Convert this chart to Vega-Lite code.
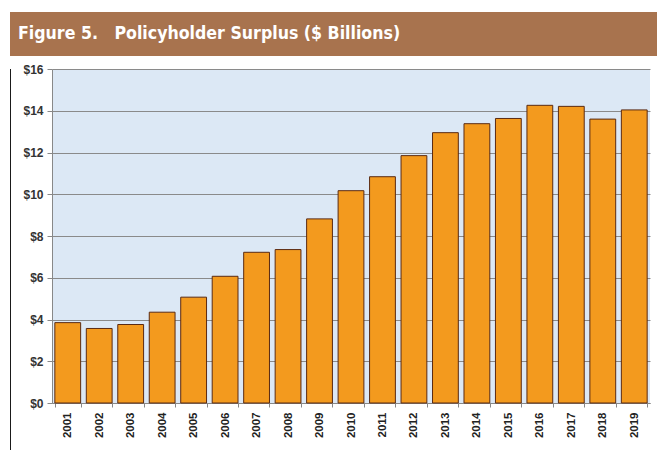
{
  "$schema": "https://vega.github.io/schema/vega-lite/v6.json",
  "padding": {"left": 10, "top": 12, "right": 0, "bottom": 0},
  "background": "white",
  "spacing": 7,
  "config": {"view": {"stroke": null}},
  "vconcat": [
    {
      "width": 647,
      "height": 44,
      "data": {"values": [{"t": "bar"}]},
      "title": {
        "text": "Figure 5.\u00a0\u00a0\u00a0Policyholder Surplus ($ Billions)",
        "anchor": "start",
        "offset": -31,
        "dx": 8,
        "font": "DejaVu Sans Condensed",
        "fontSize": 17.6,
        "fontWeight": "bold",
        "color": "white"
      },
      "mark": {"type": "rect", "color": "#A8734E"}
    },
    {
      "spacing": 0,
      "hconcat": [
        {
          "width": 1,
          "height": 388,
          "data": {"values": [{"t": "border"}]},
          "mark": {"type": "rect", "color": "#1a1a1a"}
        },
        {
          "width": 598,
          "height": 334,
          "view": {"fill": "#dce8f5", "stroke": null},
          "data": {
            "values": [
              {"year": "2001", "surplus": 3.85},
              {"year": "2002", "surplus": 3.57},
              {"year": "2003", "surplus": 3.76},
              {"year": "2004", "surplus": 4.35},
              {"year": "2005", "surplus": 5.07},
              {"year": "2006", "surplus": 6.07},
              {"year": "2007", "surplus": 7.22},
              {"year": "2008", "surplus": 7.35},
              {"year": "2009", "surplus": 8.82},
              {"year": "2010", "surplus": 10.17},
              {"year": "2011", "surplus": 10.84},
              {"year": "2012", "surplus": 11.85},
              {"year": "2013", "surplus": 12.95},
              {"year": "2014", "surplus": 13.38},
              {"year": "2015", "surplus": 13.63},
              {"year": "2016", "surplus": 14.26},
              {"year": "2017", "surplus": 14.21},
              {"year": "2018", "surplus": 13.6},
              {"year": "2019", "surplus": 14.04}
            ]
          },
          "mark": {"type": "bar", "color": "#F39A1E", "stroke": "#5a2a12", "strokeWidth": 1},
          "encoding": {
            "x": {
              "field": "year",
              "type": "ordinal",
              "title": null,
              "scale": {"paddingInner": 0.18, "paddingOuter": 0.09},
              "axis": {
                "labelAngle": -90,
                "labelFont": "Liberation Sans",
                "labelFontSize": 11.5,
                "labelFontWeight": "bold",
                "labelColor": "#222",
                "labelPadding": 5,
                "tickBand": "extent",
                "tickSize": 4,
                "tickColor": "#888",
                "domainColor": "#888",
                "grid": false
              }
            },
            "y": {
              "field": "surplus",
              "type": "quantitative",
              "title": null,
              "scale": {"domain": [0, 16], "nice": false},
              "axis": {
                "values": [0, 2, 4, 6, 8, 10, 12, 14, 16],
                "labelExpr": "'$' + datum.value",
                "labelFont": "Liberation Sans",
                "labelFontSize": 12,
                "labelFontWeight": "bold",
                "labelColor": "#333",
                "labelPadding": 4,
                "tickSize": 5,
                "tickColor": "#888",
                "domainColor": "#888",
                "gridColor": "#8a8a8a",
                "gridWidth": 1,
                "minExtent": 41
              }
            }
          }
        }
      ]
    }
  ]
}
